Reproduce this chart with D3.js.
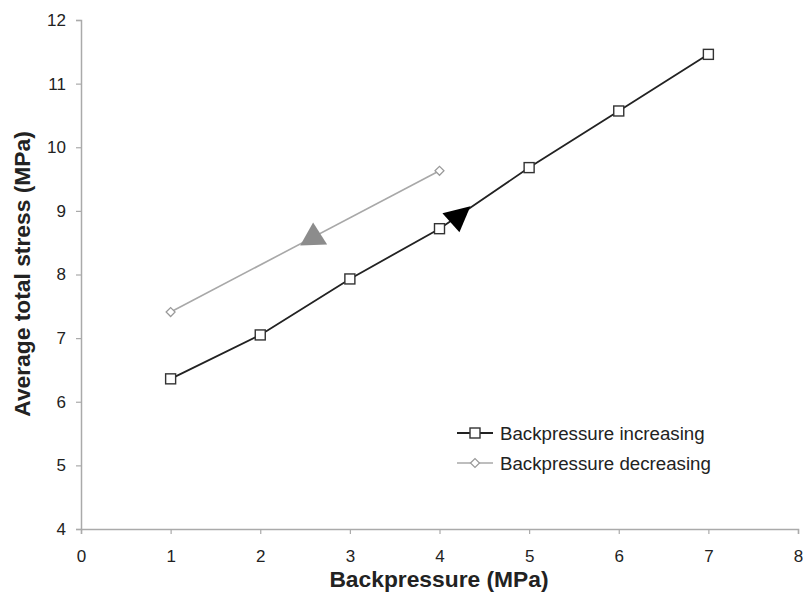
<!DOCTYPE html>
<html>
<head>
<meta charset="utf-8">
<script src="https://cdn.jsdelivr.net/npm/d3@7"></script>
<style>
body { margin: 0; background: #fff; }
svg { display: block; font-family: Arial, "Liberation Sans", sans-serif; }
</style>
</head>
<body>
<svg id="chart" width="803" height="592"></svg>
<script>
const xTicks = [0, 1, 2, 3, 4, 5, 6, 7, 8];
const yTicks = [4, 5, 6, 7, 8, 9, 10, 11, 12];
const incX = [1, 2, 3, 4, 5, 6, 7];
const incY = [6.36, 7.05, 7.93, 8.72, 9.68, 10.57, 11.46];
const decX = [1, 4];
const decY = [7.41, 9.63];
const seriesNames = ["Backpressure increasing", "Backpressure decreasing"];
const arrowDec = [2.59, 8.58];
const arrowInc = [4.2, 8.9];

const svg = d3.select("#chart");
const x = d3.scaleLinear().domain([0, 8]).range([81, 798]);
const y = d3.scaleLinear().domain([4, 12]).range([529, 20]);
const axisColor = "#aaaaaa";

const xAxis = svg.append("g").attr("transform", `translate(0,${y(4)})`)
  .call(d3.axisBottom(x).tickValues(xTicks).tickSize(5).tickPadding(16).tickFormat(d3.format("d")));
const yAxis = svg.append("g").attr("transform", `translate(${x(0)},0)`)
  .call(d3.axisLeft(y).tickValues(yTicks).tickSize(5).tickPadding(10).tickFormat(d3.format("d")));
[xAxis, yAxis].forEach(g => {
  g.select(".domain").attr("stroke", axisColor).attr("stroke-width", 1.5);
  g.selectAll(".tick line").attr("stroke", axisColor).attr("stroke-width", 1.2);
  g.selectAll(".tick text").attr("fill", "#222").style("font-size", "17px")
    .style("font-family", "Arial, 'Liberation Sans', sans-serif");
});

svg.append("text").attr("x", 439).attr("y", 587).attr("text-anchor", "middle")
  .style("font-size", "22.8px").style("font-weight", "bold").attr("fill", "#222")
  .text("Backpressure (MPa)");
svg.append("text").attr("transform", `translate(30,274) rotate(-90)`).attr("text-anchor", "middle")
  .style("font-size", "22.8px").style("font-weight", "bold").attr("fill", "#222")
  .text("Average total stress (MPa)");

const line = d3.line().x(d => x(d[0])).y(d => y(d[1]));
const dec = decX.map((v, i) => [v, decY[i]]);
const inc = incX.map((v, i) => [v, incY[i]]);

svg.append("path").datum(dec).attr("d", line).attr("fill", "none").attr("stroke", "#a8a8a8").attr("stroke-width", 1.6);
svg.append("path").datum(inc).attr("d", line).attr("fill", "none").attr("stroke", "#222").attr("stroke-width", 1.8);

const diamond = "M-4.5,0L0,-4.5L4.5,0L0,4.5Z";
svg.selectAll(".dm").data(dec).enter().append("path")
  .attr("transform", d => `translate(${x(d[0])},${y(d[1])})`)
  .attr("d", diamond).attr("fill", "#fff").attr("stroke", "#999").attr("stroke-width", 1.2);
svg.selectAll(".sq").data(inc).enter().append("rect")
  .attr("x", d => x(d[0]) - 5).attr("y", d => y(d[1]) - 5).attr("width", 10).attr("height", 10)
  .attr("fill", "#fff").attr("stroke", "#333").attr("stroke-width", 1.4);

// direction arrows
const ax = x(arrowDec[0]), ay = y(arrowDec[1]);
svg.append("path").attr("d", `M${ax-13},${ay+8}L${ax},${ay-15}L${ax+14},${ay+7}Z`).attr("fill", "#8c8c8c");
const bx = x(arrowInc[0]), by = y(arrowInc[1]);
svg.append("path").attr("d", `M${bx-15},${by-4}L${bx+13},${by-11}L${bx+2},${by+15}Z`).attr("fill", "#000");

// legend
const lg = svg.append("g");
const rows = [433, 463];
lg.append("line").attr("x1", 457).attr("x2", 493).attr("y1", rows[0]).attr("y2", rows[0]).attr("stroke", "#222").attr("stroke-width", 1.8);
lg.append("rect").attr("x", 470).attr("y", rows[0] - 5).attr("width", 10).attr("height", 10).attr("fill", "#fff").attr("stroke", "#333").attr("stroke-width", 1.4);
lg.append("line").attr("x1", 457).attr("x2", 493).attr("y1", rows[1]).attr("y2", rows[1]).attr("stroke", "#a8a8a8").attr("stroke-width", 1.6);
lg.append("path").attr("transform", `translate(475,${rows[1]})`).attr("d", diamond).attr("fill", "#fff").attr("stroke", "#999").attr("stroke-width", 1.2);
seriesNames.forEach((n, i) => {
  lg.append("text").attr("x", 500).attr("y", rows[i] + 6.5).style("font-size", "18.7px").attr("fill", "#222").text(n);
});
</script>
</body>
</html>
